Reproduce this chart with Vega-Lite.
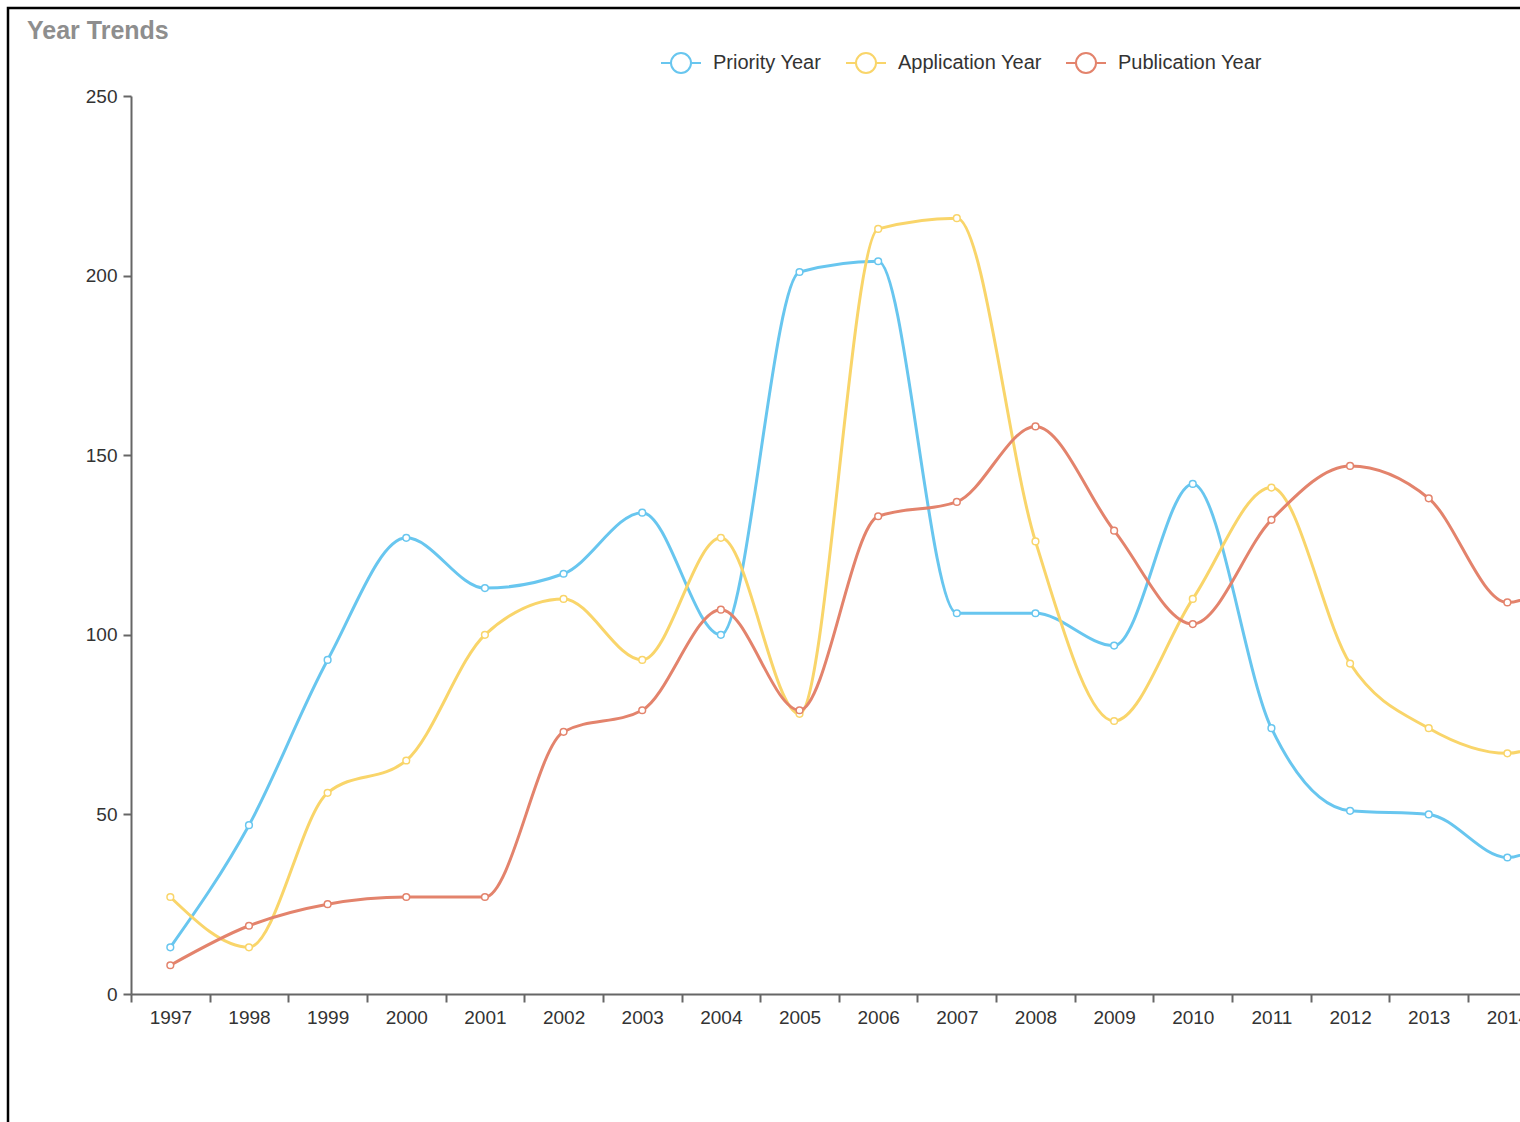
{
  "$schema": "https://vega.github.io/schema/vega-lite/v6.json",
  "autosize": {"type": "none"},
  "width": 1700,
  "height": 1200,
  "padding": {"left": 8, "top": 8, "right": -188, "bottom": -86},
  "background": "white",
  "title": {
    "text": "Year Trends",
    "anchor": "start",
    "frame": "group",
    "font": "Liberation Sans",
    "fontSize": 25,
    "fontWeight": "bold",
    "color": "#8e8e8e",
    "dx": 19,
    "dy": 40
  },
  "data": {
    "values": [
      {"year": "1997", "series": "Priority Year", "value": 13},
      {"year": "1998", "series": "Priority Year", "value": 47},
      {"year": "1999", "series": "Priority Year", "value": 93},
      {"year": "2000", "series": "Priority Year", "value": 127},
      {"year": "2001", "series": "Priority Year", "value": 113},
      {"year": "2002", "series": "Priority Year", "value": 117},
      {"year": "2003", "series": "Priority Year", "value": 134},
      {"year": "2004", "series": "Priority Year", "value": 100},
      {"year": "2005", "series": "Priority Year", "value": 201},
      {"year": "2006", "series": "Priority Year", "value": 204},
      {"year": "2007", "series": "Priority Year", "value": 106},
      {"year": "2008", "series": "Priority Year", "value": 106},
      {"year": "2009", "series": "Priority Year", "value": 97},
      {"year": "2010", "series": "Priority Year", "value": 142},
      {"year": "2011", "series": "Priority Year", "value": 74},
      {"year": "2012", "series": "Priority Year", "value": 51},
      {"year": "2013", "series": "Priority Year", "value": 50},
      {"year": "2014", "series": "Priority Year", "value": 38},
      {"year": "2015", "series": "Priority Year", "value": 55},
      {"year": "1997", "series": "Application Year", "value": 27},
      {"year": "1998", "series": "Application Year", "value": 13},
      {"year": "1999", "series": "Application Year", "value": 56},
      {"year": "2000", "series": "Application Year", "value": 65},
      {"year": "2001", "series": "Application Year", "value": 100},
      {"year": "2002", "series": "Application Year", "value": 110},
      {"year": "2003", "series": "Application Year", "value": 93},
      {"year": "2004", "series": "Application Year", "value": 127},
      {"year": "2005", "series": "Application Year", "value": 78},
      {"year": "2006", "series": "Application Year", "value": 213},
      {"year": "2007", "series": "Application Year", "value": 216},
      {"year": "2008", "series": "Application Year", "value": 126},
      {"year": "2009", "series": "Application Year", "value": 76},
      {"year": "2010", "series": "Application Year", "value": 110},
      {"year": "2011", "series": "Application Year", "value": 141},
      {"year": "2012", "series": "Application Year", "value": 92},
      {"year": "2013", "series": "Application Year", "value": 74},
      {"year": "2014", "series": "Application Year", "value": 67},
      {"year": "2015", "series": "Application Year", "value": 80},
      {"year": "1997", "series": "Publication Year", "value": 8},
      {"year": "1998", "series": "Publication Year", "value": 19},
      {"year": "1999", "series": "Publication Year", "value": 25},
      {"year": "2000", "series": "Publication Year", "value": 27},
      {"year": "2001", "series": "Publication Year", "value": 27},
      {"year": "2002", "series": "Publication Year", "value": 73},
      {"year": "2003", "series": "Publication Year", "value": 79},
      {"year": "2004", "series": "Publication Year", "value": 107},
      {"year": "2005", "series": "Publication Year", "value": 79},
      {"year": "2006", "series": "Publication Year", "value": 133},
      {"year": "2007", "series": "Publication Year", "value": 137},
      {"year": "2008", "series": "Publication Year", "value": 158},
      {"year": "2009", "series": "Publication Year", "value": 129},
      {"year": "2010", "series": "Publication Year", "value": 103},
      {"year": "2011", "series": "Publication Year", "value": 132},
      {"year": "2012", "series": "Publication Year", "value": 147},
      {"year": "2013", "series": "Publication Year", "value": 138},
      {"year": "2014", "series": "Publication Year", "value": 109},
      {"year": "2015", "series": "Publication Year", "value": 125}
    ]
  },
  "encoding": {
    "x": {
      "field": "year",
      "type": "ordinal",
      "sort": null,
      "scale": {"type": "band", "paddingInner": 0, "paddingOuter": 0, "range": [123, 1617.35]},
      "axis": {
        "title": null,
        "orient": "bottom",
        "offset": -214,
        "labelAngle": 0,
        "tickBand": "extent",
        "tickSize": 8,
        "tickWidth": 2,
        "tickColor": "#666",
        "domainColor": "#666",
        "domainWidth": 2,
        "labelFont": "Liberation Sans",
        "labelFontSize": 19,
        "labelColor": "#333",
        "labelPadding": 6
      }
    },
    "y": {
      "field": "value",
      "type": "quantitative",
      "scale": {"domain": [0, 250], "range": [986, 88], "nice": false},
      "axis": {
        "title": null,
        "orient": "left",
        "offset": -123,
        "values": [0, 50, 100, 150, 200, 250],
        "grid": false,
        "tickSize": 8,
        "tickWidth": 2,
        "tickColor": "#666",
        "domainColor": "#666",
        "domainWidth": 2,
        "labelFont": "Liberation Sans",
        "labelFontSize": 19,
        "labelColor": "#333",
        "labelPadding": 6
      }
    },
    "color": {
      "field": "series",
      "type": "nominal",
      "scale": {
        "domain": ["Priority Year", "Application Year", "Publication Year"],
        "range": ["#68c6ef", "#f9d56a", "#e3836c"]
      },
      "legend": {
        "title": null,
        "orient": "none",
        "direction": "horizontal",
        "legendX": 652,
        "legendY": 34,
        "symbolType": "M-1,0H-0.5M0.5,0H1M0.5,0A0.5,0.5,0,1,1,-0.5,0A0.5,0.5,0,1,1,0.5,0",
        "symbolSize": 1600,
        "symbolFillColor": "white",
        "symbolStrokeWidth": 2,
        "labelFont": "Liberation Sans",
        "labelFontSize": 20,
        "labelColor": "#333",
        "labelOffset": 11,
        "columnPadding": 20
      }
    }
  },
  "layer": [
    {
      "mark": {"type": "line", "interpolate": "monotone", "strokeWidth": 3}
    },
    {
      "mark": {"type": "point", "shape": "circle", "filled": false, "fill": "white", "fillOpacity": 1, "opacity": 1, "size": 45, "strokeWidth": 1.5}
    }
  ],
  "config": {
    "view": {"stroke": "black", "strokeWidth": 2.5}
  }
}
